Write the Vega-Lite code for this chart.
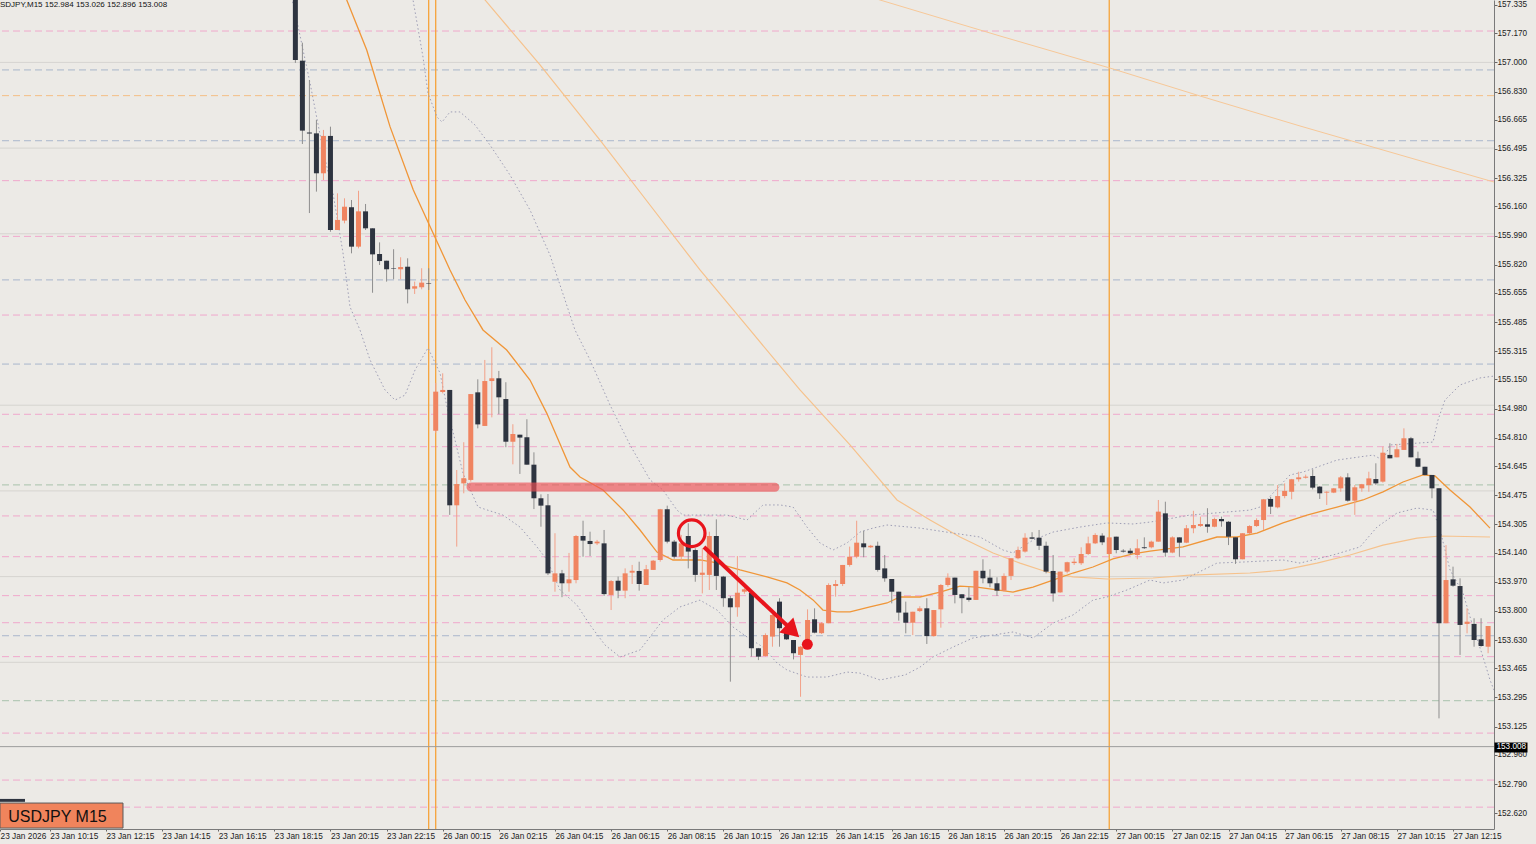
{
  "$schema": "https://vega.github.io/schema/vega-lite/v6.json",
  "width": 1494,
  "height": 829,
  "autosize": {"type": "none"},
  "padding": {"left": 0, "top": 0, "right": 42, "bottom": 15},
  "background": "#ECEAE6",
  "config": {"view": {"stroke": null}, "scale": {"continuousPadding": 0}},
  "datasets": {
    "candles": [
      {"n":42,"o":157.45,"h":157.5,"l":156.997,"c":157.014},
      {"n":43,"o":157.010,"h":157.115,"l":156.524,"c":156.602},
      {"n":44,"o":156.591,"h":156.897,"l":156.121,"c":156.585},
      {"n":45,"o":156.586,"h":156.664,"l":156.246,"c":156.353},
      {"n":46,"o":156.353,"h":156.606,"l":156.314,"c":156.571},
      {"n":47,"o":156.571,"h":156.625,"l":156.012,"c":156.022},
      {"n":48,"o":156.022,"h":156.236,"l":156.022,"c":156.081},
      {"n":49,"o":156.077,"h":156.207,"l":156.061,"c":156.158},
      {"n":50,"o":156.155,"h":156.197,"l":155.886,"c":155.925},
      {"n":51,"o":155.925,"h":156.251,"l":155.915,"c":156.131},
      {"n":52,"o":156.131,"h":156.174,"l":156.022,"c":156.032},
      {"n":53,"o":156.032,"h":156.032,"l":155.656,"c":155.880},
      {"n":54,"o":155.882,"h":155.950,"l":155.818,"c":155.841},
      {"n":55,"o":155.843,"h":155.843,"l":155.721,"c":155.793},
      {"n":56,"o":155.799,"h":155.910,"l":155.735,"c":155.796},
      {"n":57,"o":155.793,"h":155.863,"l":155.735,"c":155.806},
      {"n":58,"o":155.808,"h":155.857,"l":155.594,"c":155.676},
      {"n":59,"o":155.680,"h":155.721,"l":155.649,"c":155.694},
      {"n":60,"o":155.688,"h":155.799,"l":155.676,"c":155.715},
      {"n":61,"o":155.711,"h":155.799,"l":155.672,"c":155.708},
      {"n":62,"o":154.851,"h":155.130,"l":154.838,"c":155.079},
      {"n":63,"o":155.077,"h":155.186,"l":155.069,"c":155.089},
      {"n":64,"o":155.089,"h":155.089,"l":154.360,"c":154.416},
      {"n":65,"o":154.416,"h":154.622,"l":154.175,"c":154.540},
      {"n":66,"o":154.544,"h":154.784,"l":154.486,"c":154.574},
      {"n":67,"o":154.564,"h":155.065,"l":154.554,"c":155.065},
      {"n":68,"o":155.075,"h":155.151,"l":154.865,"c":154.888},
      {"n":69,"o":154.879,"h":155.264,"l":154.879,"c":155.141},
      {"n":70,"o":155.141,"h":155.338,"l":154.929,"c":155.157},
      {"n":71,"o":155.157,"h":155.200,"l":154.947,"c":155.046},
      {"n":72,"o":155.036,"h":155.134,"l":154.755,"c":154.787},
      {"n":73,"o":154.787,"h":154.889,"l":154.655,"c":154.832},
      {"n":74,"o":154.828,"h":154.828,"l":154.599,"c":154.811},
      {"n":75,"o":154.813,"h":154.918,"l":154.653,"c":154.653},
      {"n":76,"o":154.653,"h":154.725,"l":154.394,"c":154.457},
      {"n":77,"o":154.457,"h":154.480,"l":154.291,"c":154.414},
      {"n":78,"o":154.416,"h":154.482,"l":154.009,"c":154.019},
      {"n":79,"o":153.970,"h":154.253,"l":153.912,"c":154.019},
      {"n":80,"o":154.019,"h":154.039,"l":153.880,"c":153.961},
      {"n":81,"o":153.961,"h":154.138,"l":153.912,"c":153.984},
      {"n":82,"o":153.980,"h":154.243,"l":153.961,"c":154.237},
      {"n":83,"o":154.237,"h":154.326,"l":154.116,"c":154.210},
      {"n":84,"o":154.208,"h":154.262,"l":154.120,"c":154.190},
      {"n":85,"o":154.194,"h":154.214,"l":154.184,"c":154.204},
      {"n":86,"o":154.194,"h":154.272,"l":153.887,"c":153.898},
      {"n":87,"o":153.893,"h":153.980,"l":153.805,"c":153.974},
      {"n":88,"o":153.976,"h":154.000,"l":153.874,"c":153.918},
      {"n":89,"o":153.918,"h":154.048,"l":153.874,"c":154.019},
      {"n":90,"o":154.023,"h":154.068,"l":153.957,"c":154.034},
      {"n":91,"o":154.033,"h":154.087,"l":153.918,"c":153.957},
      {"n":92,"o":153.951,"h":154.068,"l":153.951,"c":154.043},
      {"n":93,"o":154.039,"h":154.097,"l":154.039,"c":154.093},
      {"n":94,"o":154.097,"h":154.395,"l":154.087,"c":154.393},
      {"n":95,"o":154.393,"h":154.414,"l":154.194,"c":154.204},
      {"n":96,"o":154.204,"h":154.214,"l":154.105,"c":154.116},
      {"n":97,"o":154.116,"h":154.243,"l":154.097,"c":154.194},
      {"n":98,"o":154.237,"h":154.311,"l":154.048,"c":154.146},
      {"n":99,"o":154.155,"h":154.165,"l":153.970,"c":154.010},
      {"n":100,"o":154.010,"h":154.165,"l":153.902,"c":154.023},
      {"n":101,"o":154.010,"h":154.262,"l":153.922,"c":154.237},
      {"n":102,"o":154.237,"h":154.334,"l":153.922,"c":154.004},
      {"n":103,"o":154.000,"h":154.004,"l":153.824,"c":153.874},
      {"n":104,"o":153.874,"h":153.887,"l":153.387,"c":153.821},
      {"n":105,"o":153.821,"h":154.120,"l":153.766,"c":153.906},
      {"n":106,"o":153.912,"h":153.935,"l":153.900,"c":153.926},
      {"n":107,"o":153.906,"h":153.922,"l":153.533,"c":153.582},
      {"n":108,"o":153.582,"h":153.584,"l":153.513,"c":153.533},
      {"n":109,"o":153.537,"h":153.669,"l":153.533,"c":153.659},
      {"n":110,"o":153.650,"h":153.788,"l":153.591,"c":153.776},
      {"n":111,"o":153.854,"h":153.874,"l":153.591,"c":153.699},
      {"n":112,"o":153.673,"h":153.718,"l":153.631,"c":153.634},
      {"n":113,"o":153.630,"h":153.630,"l":153.517,"c":153.553},
      {"n":114,"o":153.543,"h":153.595,"l":153.299,"c":153.591},
      {"n":115,"o":153.611,"h":153.809,"l":153.591,"c":153.747},
      {"n":116,"o":153.751,"h":153.815,"l":153.669,"c":153.673},
      {"n":117,"o":153.670,"h":153.735,"l":153.665,"c":153.728},
      {"n":118,"o":153.728,"h":153.961,"l":153.728,"c":153.951},
      {"n":119,"o":153.945,"h":153.980,"l":153.883,"c":153.957},
      {"n":120,"o":153.957,"h":154.068,"l":153.945,"c":154.068},
      {"n":121,"o":154.068,"h":154.175,"l":154.058,"c":154.116},
      {"n":122,"o":154.116,"h":154.326,"l":154.107,"c":154.198},
      {"n":123,"o":154.194,"h":154.268,"l":154.113,"c":154.171},
      {"n":124,"o":154.171,"h":154.185,"l":154.167,"c":154.180},
      {"n":125,"o":154.180,"h":154.204,"l":154.029,"c":154.039},
      {"n":126,"o":154.048,"h":154.126,"l":153.970,"c":153.990},
      {"n":127,"o":153.986,"h":153.986,"l":153.844,"c":153.912},
      {"n":128,"o":153.912,"h":153.912,"l":153.743,"c":153.790},
      {"n":129,"o":153.790,"h":153.854,"l":153.669,"c":153.731},
      {"n":130,"o":153.731,"h":153.795,"l":153.659,"c":153.795},
      {"n":131,"o":153.799,"h":153.827,"l":153.793,"c":153.815},
      {"n":132,"o":153.815,"h":153.874,"l":153.607,"c":153.653},
      {"n":133,"o":153.653,"h":153.805,"l":153.649,"c":153.805},
      {"n":134,"o":153.809,"h":153.957,"l":153.702,"c":153.951},
      {"n":135,"o":153.951,"h":154.019,"l":153.941,"c":153.994},
      {"n":136,"o":153.994,"h":153.994,"l":153.844,"c":153.893},
      {"n":137,"o":153.897,"h":153.897,"l":153.786,"c":153.874},
      {"n":138,"o":153.877,"h":153.938,"l":153.854,"c":153.864},
      {"n":139,"o":153.864,"h":154.034,"l":153.864,"c":154.034},
      {"n":140,"o":154.034,"h":154.101,"l":153.961,"c":153.990},
      {"n":141,"o":153.994,"h":154.043,"l":153.938,"c":153.961},
      {"n":142,"o":153.961,"h":153.996,"l":153.887,"c":153.918},
      {"n":143,"o":153.918,"h":154.019,"l":153.912,"c":154.004},
      {"n":144,"o":154.004,"h":154.107,"l":153.980,"c":154.107},
      {"n":145,"o":154.107,"h":154.175,"l":154.101,"c":154.155},
      {"n":146,"o":154.146,"h":154.253,"l":154.140,"c":154.227},
      {"n":147,"o":154.229,"h":154.259,"l":154.218,"c":154.221},
      {"n":148,"o":154.227,"h":154.272,"l":154.155,"c":154.180},
      {"n":149,"o":154.180,"h":154.204,"l":154.019,"c":154.029},
      {"n":150,"o":154.033,"h":154.126,"l":153.854,"c":153.902},
      {"n":151,"o":153.908,"h":154.029,"l":153.905,"c":154.029},
      {"n":152,"o":154.029,"h":154.087,"l":154.019,"c":154.084},
      {"n":153,"o":154.079,"h":154.107,"l":154.068,"c":154.087},
      {"n":154,"o":154.078,"h":154.171,"l":154.068,"c":154.132},
      {"n":155,"o":154.132,"h":154.233,"l":154.126,"c":154.194},
      {"n":156,"o":154.194,"h":154.253,"l":154.190,"c":154.243},
      {"n":157,"o":154.239,"h":154.253,"l":154.184,"c":154.200},
      {"n":158,"o":154.132,"h":154.233,"l":154.126,"c":154.229},
      {"n":159,"o":154.233,"h":154.233,"l":154.136,"c":154.155},
      {"n":160,"o":154.151,"h":154.160,"l":154.140,"c":154.146},
      {"n":161,"o":154.151,"h":154.165,"l":154.130,"c":154.136},
      {"n":162,"o":154.126,"h":154.218,"l":154.101,"c":154.165},
      {"n":163,"o":154.171,"h":154.229,"l":154.161,"c":154.166},
      {"n":164,"o":154.171,"h":154.210,"l":154.165,"c":154.204},
      {"n":165,"o":154.204,"h":154.447,"l":154.204,"c":154.379},
      {"n":166,"o":154.369,"h":154.437,"l":154.116,"c":154.140},
      {"n":167,"o":154.140,"h":154.235,"l":154.136,"c":154.229},
      {"n":168,"o":154.229,"h":154.229,"l":154.116,"c":154.198},
      {"n":169,"o":154.198,"h":154.301,"l":154.195,"c":154.282},
      {"n":170,"o":154.282,"h":154.384,"l":154.253,"c":154.301},
      {"n":171,"o":154.295,"h":154.350,"l":154.290,"c":154.307},
      {"n":172,"o":154.305,"h":154.399,"l":154.256,"c":154.291},
      {"n":173,"o":154.291,"h":154.344,"l":154.288,"c":154.336},
      {"n":174,"o":154.336,"h":154.350,"l":154.291,"c":154.323},
      {"n":175,"o":154.320,"h":154.324,"l":154.184,"c":154.233},
      {"n":176,"o":154.229,"h":154.229,"l":154.074,"c":154.101},
      {"n":177,"o":154.101,"h":154.253,"l":154.101,"c":154.253},
      {"n":178,"o":154.253,"h":154.300,"l":154.248,"c":154.295},
      {"n":179,"o":154.295,"h":154.340,"l":154.290,"c":154.330},
      {"n":180,"o":154.330,"h":154.453,"l":154.272,"c":154.451},
      {"n":181,"o":154.453,"h":154.465,"l":154.365,"c":154.408},
      {"n":182,"o":154.404,"h":154.534,"l":154.398,"c":154.470},
      {"n":183,"o":154.470,"h":154.544,"l":154.457,"c":154.500},
      {"n":184,"o":154.495,"h":154.570,"l":154.451,"c":154.568},
      {"n":185,"o":154.568,"h":154.612,"l":154.554,"c":154.579},
      {"n":186,"o":154.577,"h":154.595,"l":154.572,"c":154.583},
      {"n":187,"o":154.587,"h":154.626,"l":154.509,"c":154.519},
      {"n":188,"o":154.525,"h":154.528,"l":154.453,"c":154.486},
      {"n":189,"o":154.490,"h":154.498,"l":154.418,"c":154.495},
      {"n":190,"o":154.490,"h":154.517,"l":154.487,"c":154.515},
      {"n":191,"o":154.515,"h":154.587,"l":154.495,"c":154.579},
      {"n":192,"o":154.579,"h":154.603,"l":154.437,"c":154.443},
      {"n":193,"o":154.443,"h":154.534,"l":154.360,"c":154.521},
      {"n":194,"o":154.515,"h":154.541,"l":154.495,"c":154.539},
      {"n":195,"o":154.534,"h":154.612,"l":154.495,"c":154.573},
      {"n":196,"o":154.569,"h":154.661,"l":154.534,"c":154.544},
      {"n":197,"o":154.554,"h":154.758,"l":154.548,"c":154.723},
      {"n":198,"o":154.710,"h":154.778,"l":154.690,"c":154.690},
      {"n":199,"o":154.696,"h":154.774,"l":154.696,"c":154.743},
      {"n":200,"o":154.739,"h":154.865,"l":154.739,"c":154.807},
      {"n":201,"o":154.807,"h":154.815,"l":154.696,"c":154.696},
      {"n":202,"o":154.690,"h":154.729,"l":154.638,"c":154.641},
      {"n":203,"o":154.641,"h":154.641,"l":154.590,"c":154.593},
      {"n":204,"o":154.593,"h":154.593,"l":154.457,"c":154.515},
      {"n":205,"o":154.515,"h":154.515,"l":153.173,"c":153.728},
      {"n":206,"o":153.728,"h":154.184,"l":153.728,"c":153.980},
      {"n":207,"o":153.984,"h":154.058,"l":153.941,"c":153.947},
      {"n":208,"o":153.945,"h":153.990,"l":153.543,"c":153.718},
      {"n":209,"o":153.724,"h":153.815,"l":153.669,"c":153.737},
      {"n":210,"o":153.724,"h":153.757,"l":153.591,"c":153.630},
      {"n":211,"o":153.634,"h":153.757,"l":153.591,"c":153.595},
      {"n":212,"o":153.591,"h":153.712,"l":153.553,"c":153.712}
    ],
    "ma1": [
      {"n":46.94,"p":157.627},{"n":49.32,"p":157.364},{"n":52.17,"p":157.072},{"n":55.49,"p":156.625},
      {"n":58.81,"p":156.255},{"n":61.62,"p":156.005},{"n":64.04,"p":155.789},{"n":66.18,"p":155.614},
      {"n":68.74,"p":155.439},{"n":72.12,"p":155.322},{"n":75.44,"p":155.147},{"n":77.82,"p":154.954},
      {"n":81.14,"p":154.639},{"n":82.57,"p":154.581},{"n":85.85,"p":154.505},{"n":88.70,"p":154.389},
      {"n":91.12,"p":154.272},{"n":93.54,"p":154.143},{"n":95.82,"p":154.097},{"n":99.67,"p":154.097},
      {"n":101.52,"p":154.085},{"n":105.37,"p":154.039},{"n":109.22,"p":153.998},{"n":112.07,"p":153.963},
      {"n":113.92,"p":153.922},{"n":115.78,"p":153.864},{"n":117.20,"p":153.805},{"n":119.20,"p":153.794},
      {"n":121.05,"p":153.794},{"n":123.90,"p":153.823},{"n":126.33,"p":153.846},{"n":128.18,"p":153.881},
      {"n":131.03,"p":153.881},{"n":133.88,"p":153.910},{"n":136.73,"p":153.945},{"n":139.15,"p":153.939},
      {"n":142.00,"p":153.922},{"n":144.28,"p":153.910},{"n":147.13,"p":153.939},{"n":149.98,"p":153.980},
      {"n":152.83,"p":154.021},{"n":155.68,"p":154.056},{"n":158.53,"p":154.103},{"n":161.38,"p":154.132},
      {"n":163.81,"p":154.149},{"n":168.51,"p":154.173},{"n":173.36,"p":154.231},{"n":176.21,"p":154.231},
      {"n":179.06,"p":154.254},{"n":182.77,"p":154.313},{"n":186.19,"p":154.359},{"n":190.46,"p":154.406},
      {"n":194.17,"p":154.447},{"n":197.02,"p":154.494},{"n":199.87,"p":154.552},{"n":202.72,"p":154.593},
      {"n":204.43,"p":154.587},{"n":206.57,"p":154.505},{"n":209.42,"p":154.406},{"n":212.27,"p":154.283}
    ],
    "ma2": [
      {"n":68.32,"p":157.411},{"n":69.03,"p":157.364},{"n":76.87,"p":156.985},{"n":85.42,"p":156.547},
      {"n":92.54,"p":156.168},{"n":99.67,"p":155.789},{"n":106.80,"p":155.439},{"n":113.92,"p":155.089},
      {"n":121.05,"p":154.768},{"n":127.75,"p":154.447},{"n":132.46,"p":154.330},{"n":136.73,"p":154.231},
      {"n":141.44,"p":154.138},{"n":145.28,"p":154.079},{"n":149.13,"p":154.027},{"n":152.83,"p":153.998},
      {"n":157.68,"p":153.986},{"n":164.24,"p":153.992},{"n":169.51,"p":154.009},{"n":178.06,"p":154.021},
      {"n":182.77,"p":154.038},{"n":187.61,"p":154.079},{"n":192.32,"p":154.126},{"n":197.02,"p":154.184},
      {"n":201.87,"p":154.225},{"n":205.15,"p":154.237},{"n":212.27,"p":154.231}
    ],
    "ma3": [
      {"n":123.9,"p":157.382},{"n":125.33,"p":157.364},{"n":142.43,"p":157.154},{"n":158.11,"p":156.967},
      {"n":170.94,"p":156.804},{"n":185.19,"p":156.629},{"n":199.45,"p":156.460},{"n":212.84,"p":156.302}
    ],
    "bb": [
      {"b":"u","n":58.34,"p":157.452},{"b":"u","n":58.77,"p":157.364},{"b":"u","n":60.19,"p":157.031},{"b":"u","n":60.90,"p":156.821},
      {"b":"u","n":62.19,"p":156.681},{"b":"u","n":62.90,"p":156.652},{"b":"u","n":64.04,"p":156.711},{"b":"u","n":65.46,"p":156.711},
      {"b":"u","n":67.60,"p":156.635},{"b":"u","n":69.74,"p":156.518},{"b":"u","n":72.59,"p":156.343},{"b":"u","n":75.44,"p":156.139},
      {"b":"u","n":78.29,"p":155.876},{"b":"u","n":80.43,"p":155.614},{"b":"u","n":81.85,"p":155.439},{"b":"u","n":84.00,"p":155.264},
      {"b":"u","n":86.85,"p":155.001},{"b":"u","n":89.70,"p":154.768},{"b":"u","n":92.55,"p":154.564},{"b":"u","n":94.40,"p":154.505},
      {"b":"u","n":96.39,"p":154.388},{"b":"u","n":97.25,"p":154.359},{"b":"u","n":101.52,"p":154.359},{"b":"u","n":103.52,"p":154.359},
      {"b":"u","n":106.37,"p":154.330},{"b":"u","n":108.65,"p":154.418},{"b":"u","n":111.08,"p":154.418},{"b":"u","n":112.93,"p":154.406},
      {"b":"u","n":114.92,"p":154.289},{"b":"u","n":116.78,"p":154.196},{"b":"u","n":118.63,"p":154.155},{"b":"u","n":120.62,"p":154.196},
      {"b":"u","n":122.48,"p":154.260},{"b":"u","n":124.33,"p":154.283},{"b":"u","n":126.32,"p":154.301},{"b":"u","n":131.03,"p":154.283},
      {"b":"u","n":135.73,"p":154.254},{"b":"u","n":139.58,"p":154.231},{"b":"u","n":142.86,"p":154.155},{"b":"u","n":144.29,"p":154.138},
      {"b":"u","n":147.14,"p":154.213},{"b":"u","n":149.99,"p":154.260},{"b":"u","n":153.83,"p":154.289},{"b":"u","n":157.68,"p":154.313},
      {"b":"u","n":161.39,"p":154.307},{"b":"u","n":163.81,"p":154.318},{"b":"u","n":169.51,"p":154.359},{"b":"u","n":178.06,"p":154.388},
      {"b":"u","n":179.49,"p":154.406},{"b":"u","n":183.76,"p":154.593},{"b":"u","n":185.62,"p":154.610},{"b":"u","n":190.46,"p":154.680},
      {"b":"u","n":195.60,"p":154.709},{"b":"u","n":197.02,"p":154.680},{"b":"u","n":198.02,"p":154.768},{"b":"u","n":204.15,"p":154.785},
      {"b":"u","n":204.86,"p":154.914},{"b":"u","n":205.85,"p":155.030},{"b":"u","n":207.99,"p":155.118},{"b":"u","n":210.84,"p":155.159},
      {"b":"u","n":212.84,"p":155.170},
      {"b":"l","n":41.23,"p":157.422},{"b":"l","n":42.19,"p":157.247},{"b":"l","n":44.09,"p":156.880},{"b":"l","n":45.94,"p":156.489},
      {"b":"l","n":47.36,"p":156.238},{"b":"l","n":48.79,"p":155.888},{"b":"l","n":49.79,"p":155.573},{"b":"l","n":51.21,"p":155.439},
      {"b":"l","n":52.64,"p":155.264},{"b":"l","n":54.77,"p":155.089},{"b":"l","n":56.20,"p":155.030},{"b":"l","n":57.63,"p":155.059},
      {"b":"l","n":59.05,"p":155.205},{"b":"l","n":60.90,"p":155.334},{"b":"l","n":62.61,"p":155.188},{"b":"l","n":63.61,"p":154.989},
      {"b":"l","n":65.89,"p":154.604},{"b":"l","n":68.03,"p":154.406},{"b":"l","n":71.59,"p":154.359},{"b":"l","n":74.02,"p":154.289},
      {"b":"l","n":76.44,"p":154.173},{"b":"l","n":77.87,"p":154.097},{"b":"l","n":79.72,"p":153.922},{"b":"l","n":82.14,"p":153.834},
      {"b":"l","n":83.99,"p":153.718},{"b":"l","n":86.13,"p":153.601},{"b":"l","n":88.27,"p":153.531},{"b":"l","n":91.12,"p":153.572},
      {"b":"l","n":94.40,"p":153.747},{"b":"l","n":96.82,"p":153.823},{"b":"l","n":99.67,"p":153.863},{"b":"l","n":102.10,"p":153.805},
      {"b":"l","n":104.38,"p":153.706},{"b":"l","n":106.37,"p":153.648},{"b":"l","n":108.65,"p":153.589},{"b":"l","n":110.65,"p":153.496},
      {"b":"l","n":112.07,"p":153.455},{"b":"l","n":114.92,"p":153.414},{"b":"l","n":117.77,"p":153.414},{"b":"l","n":120.62,"p":153.443},
      {"b":"l","n":122.48,"p":153.437},{"b":"l","n":125.33,"p":153.397},{"b":"l","n":128.89,"p":153.426},{"b":"l","n":131.03,"p":153.472},
      {"b":"l","n":132.88,"p":153.531},{"b":"l","n":135.73,"p":153.589},{"b":"l","n":138.58,"p":153.642},{"b":"l","n":141.44,"p":153.659},
      {"b":"l","n":144.29,"p":153.677},{"b":"l","n":147.14,"p":153.642},{"b":"l","n":149.99,"p":153.729},{"b":"l","n":152.83,"p":153.776},
      {"b":"l","n":155.68,"p":153.863},{"b":"l","n":157.68,"p":153.881},{"b":"l","n":160.53,"p":153.922},{"b":"l","n":163.81,"p":153.980},
      {"b":"l","n":165.66,"p":153.963},{"b":"l","n":168.51,"p":153.980},{"b":"l","n":170.51,"p":154.021},{"b":"l","n":173.36,"p":154.079},
      {"b":"l","n":177.06,"p":154.085},{"b":"l","n":182.77,"p":154.097},{"b":"l","n":185.19,"p":154.079},{"b":"l","n":189.89,"p":154.126},
      {"b":"l","n":193.74,"p":154.173},{"b":"l","n":196.16,"p":154.289},{"b":"l","n":199.01,"p":154.371},{"b":"l","n":201.87,"p":154.400},
      {"b":"l","n":204.15,"p":154.388},{"b":"l","n":205.15,"p":154.272},{"b":"l","n":206.57,"p":154.039},{"b":"l","n":208.43,"p":153.904},
      {"b":"l","n":209.85,"p":153.706},{"b":"l","n":211.28,"p":153.531},{"b":"l","n":212.27,"p":153.397},{"b":"l","n":212.84,"p":153.338}
    ],
    "dlevels": [
      {"p":157.183,"k":"pink"},{"p":156.956,"k":"blue"},{"p":156.806,"k":"orange"},{"p":156.543,"k":"blue"},
      {"p":156.310,"k":"pink"},{"p":155.985,"k":"pink"},{"p":155.731,"k":"blue"},{"p":155.526,"k":"pink"},
      {"p":155.240,"k":"blue"},{"p":154.947,"k":"pink"},{"p":154.758,"k":"pink"},{"p":154.535,"k":"green"},
      {"p":154.354,"k":"pink"},{"p":154.116,"k":"pink"},{"p":153.889,"k":"pink"},{"p":153.731,"k":"pink"},
      {"p":153.655,"k":"blue"},{"p":153.533,"k":"pink"},{"p":153.276,"k":"green"},{"p":153.087,"k":"pink"},
      {"p":152.813,"k":"pink"},{"p":152.655,"k":"pink"}
    ],
    "slevels": [{"p":157.0},{"p":156.5},{"p":156.0},{"p":155.0},{"p":154.5},{"p":154.0},{"p":153.5}],
    "vlines": [{"n":61},{"n":62},{"n":158}],
    "trend": [{"n":67.03,"p":154.523},{"n":110.36,"p":154.521}],
    "circle": [{"n":98.49,"p":154.253}],
    "arrow": [{"n":100.24,"p":154.173,"n2":112.78,"p2":153.688}],
    "head": [{"n":112.89,"p":153.682}],
    "dot": [{"n":114.97,"p":153.605}],
    "box": [{"n":-0.1,"n2":17.43,"p":152.679,"p2":152.533}],
    "bar": [{"n":-0.1,"n2":3.46,"p":152.703,"p2":152.686}],
    "boxtext": [{"n":1.08,"p":152.570,"t":"USDJPY M15"}],
    "header": [{"n":-0.1,"p":157.323,"t":"SDJPY,M15  152.984 153.026 152.896 153.008"}],
    "bid": [{"p":153.008}]
  },
  "resolve": {"axis": {"y": "independent"}},
  "layer": [
    {
      "data": {"name": "slevels"},
      "mark": {"type": "rule", "color": "#D6D4D0", "strokeWidth": 1},
      "encoding": {
        "y": {"field": "p", "type": "quantitative", "scale": {"domain": [152.5275, 157.364], "nice": false, "zero": false}, "axis": null}
      }
    },
    {
      "data": {"name": "dlevels"},
      "mark": {"type": "rule", "strokeWidth": 1, "strokeDash": [7, 4]},
      "encoding": {
        "y": {"field": "p", "type": "quantitative", "axis": null},
        "color": {"condition": [
          {"test": "datum.k === 'pink'", "value": "#F0A8CC"},
          {"test": "datum.k === 'blue'", "value": "#A9B6CC"},
          {"test": "datum.k === 'green'", "value": "#A9C2AC"}
        ], "value": "#F4BE84"}
      }
    },
    {
      "data": {"name": "vlines"},
      "mark": {"type": "rule", "color": "#F6A33A", "strokeWidth": 1.3},
      "encoding": {
        "x": {"field": "n", "type": "quantitative", "scale": {"domain": [-0.1, 212.84], "nice": false, "zero": false, "padding": 0},
          "axis": {
            "orient": "bottom", "title": null, "grid": false,
            "values": [-0.09, 7, 15, 23, 31, 39, 47, 55, 63, 71, 79, 87, 95, 103, 111, 119, 127, 135, 143, 151, 159, 167, 175, 183, 191, 199, 207],
            "labelExpr": "datum.value < 0 ? '23 Jan 2026' : ['23 Jan 10:15','23 Jan 12:15','23 Jan 14:15','23 Jan 16:15','23 Jan 18:15','23 Jan 20:15','23 Jan 22:15','26 Jan 00:15','26 Jan 02:15','26 Jan 04:15','26 Jan 06:15','26 Jan 08:15','26 Jan 10:15','26 Jan 12:15','26 Jan 14:15','26 Jan 16:15','26 Jan 18:15','26 Jan 20:15','26 Jan 22:15','27 Jan 00:15','27 Jan 02:15','27 Jan 04:15','27 Jan 06:15','27 Jan 08:15','27 Jan 10:15','27 Jan 12:15'][round((datum.value - 7) / 8)]",
            "domainColor": "#7A7A7A", "tickColor": "#666666", "tickSize": 2,
            "labelPadding": 0, "labelAlign": "left", "labelBaseline": "top",
            "labelFont": "Liberation Sans", "labelFontSize": 8.3, "labelColor": "#222222",
            "labelFlush": false, "labelOverlap": false
          }
        }
      }
    },
    {
      "data": {"name": "ma3"},
      "mark": {"type": "line", "color": "#F7C898", "strokeWidth": 1, "clip": true},
      "encoding": {
        "x": {"field": "n", "type": "quantitative"},
        "y": {"field": "p", "type": "quantitative", "axis": null}
      }
    },
    {
      "data": {"name": "ma2"},
      "mark": {"type": "line", "color": "#F6C28C", "strokeWidth": 1.2, "clip": true},
      "encoding": {
        "x": {"field": "n", "type": "quantitative"},
        "y": {"field": "p", "type": "quantitative", "axis": null}
      }
    },
    {
      "data": {"name": "bb"},
      "mark": {"type": "line", "color": "#9D9DB5", "strokeWidth": 1, "strokeDash": [1.5, 2.5], "clip": true},
      "encoding": {
        "x": {"field": "n", "type": "quantitative"},
        "y": {"field": "p", "type": "quantitative", "axis": null},
        "detail": {"field": "b", "type": "nominal"}
      }
    },
    {
      "data": {"name": "ma1"},
      "mark": {"type": "line", "color": "#F09638", "strokeWidth": 1.3, "clip": true},
      "encoding": {
        "x": {"field": "n", "type": "quantitative"},
        "y": {"field": "p", "type": "quantitative", "axis": null}
      }
    },
    {
      "data": {"name": "candles"},
      "mark": {"type": "rule", "strokeWidth": 1, "clip": true},
      "encoding": {
        "x": {"field": "n", "type": "quantitative"},
        "y": {"field": "l", "type": "quantitative", "axis": null},
        "y2": {"field": "h"},
        "color": {"condition": {"test": "datum.c >= datum.o", "value": "#F2A088"}, "value": "#8E8E8E"}
      }
    },
    {
      "data": {"name": "candles"},
      "mark": {"type": "bar", "size": 5, "clip": true},
      "encoding": {
        "x": {"field": "n", "type": "quantitative"},
        "y": {"field": "o", "type": "quantitative",
          "axis": {
            "orient": "right", "title": null, "grid": false,
            "values": [157.335, 157.17, 157.0, 156.83, 156.665, 156.495, 156.325, 156.16, 155.99, 155.82, 155.655, 155.485, 155.315, 155.15, 154.98, 154.81, 154.645, 154.475, 154.305, 154.14, 153.97, 153.8, 153.63, 153.465, 153.295, 153.125, 152.96, 152.79, 152.62],
            "format": ".3f",
            "domainColor": "#7A7A7A", "tickColor": "#666666", "tickSize": 3, "labelPadding": 0,
            "labelFont": "Liberation Sans", "labelFontSize": 8.2, "labelColor": "#222222",
            "labelFlush": false, "labelOverlap": false
          }
        },
        "y2": {"field": "c"},
        "color": {"condition": {"test": "datum.c >= datum.o", "value": "#F08460"}, "value": "#2E3440"}
      }
    },
    {
      "data": {"name": "trend"},
      "mark": {"type": "line", "color": "#EE4F55", "opacity": 0.65, "strokeWidth": 9, "strokeCap": "round"},
      "encoding": {
        "x": {"field": "n", "type": "quantitative"},
        "y": {"field": "p", "type": "quantitative", "axis": null}
      }
    },
    {
      "data": {"name": "circle"},
      "mark": {"type": "point", "shape": "circle", "size": 707, "filled": false, "stroke": "#E8141C", "strokeWidth": 3.2, "opacity": 1},
      "encoding": {
        "x": {"field": "n", "type": "quantitative"},
        "y": {"field": "p", "type": "quantitative", "axis": null}
      }
    },
    {
      "data": {"name": "arrow"},
      "mark": {"type": "rule", "color": "#E8141C", "strokeWidth": 4},
      "encoding": {
        "x": {"field": "n", "type": "quantitative"},
        "y": {"field": "p", "type": "quantitative", "axis": null},
        "x2": {"field": "n2"},
        "y2": {"field": "p2"}
      }
    },
    {
      "data": {"name": "head"},
      "mark": {"type": "point", "shape": "triangle-right", "angle": 43.5, "size": 420, "filled": true, "color": "#E8141C", "opacity": 1},
      "encoding": {
        "x": {"field": "n", "type": "quantitative"},
        "y": {"field": "p", "type": "quantitative", "axis": null}
      }
    },
    {
      "data": {"name": "dot"},
      "mark": {"type": "point", "shape": "circle", "size": 120, "filled": true, "color": "#E8141C", "opacity": 1},
      "encoding": {
        "x": {"field": "n", "type": "quantitative"},
        "y": {"field": "p", "type": "quantitative", "axis": null}
      }
    },
    {
      "data": {"name": "bar"},
      "mark": {"type": "rect", "color": "#2E3440"},
      "encoding": {
        "x": {"field": "n", "type": "quantitative"},
        "x2": {"field": "n2"},
        "y": {"field": "p", "type": "quantitative", "axis": null},
        "y2": {"field": "p2"}
      }
    },
    {
      "data": {"name": "box"},
      "mark": {"type": "rect", "fill": "#F0845C", "stroke": "#5A5A5A", "strokeWidth": 1},
      "encoding": {
        "x": {"field": "n", "type": "quantitative"},
        "x2": {"field": "n2"},
        "y": {"field": "p", "type": "quantitative", "axis": null},
        "y2": {"field": "p2"}
      }
    },
    {
      "data": {"name": "boxtext"},
      "mark": {"type": "text", "align": "left", "baseline": "alphabetic", "font": "Liberation Sans", "fontSize": 16, "color": "#111111"},
      "encoding": {
        "x": {"field": "n", "type": "quantitative"},
        "y": {"field": "p", "type": "quantitative", "axis": null},
        "text": {"field": "t"}
      }
    },
    {
      "data": {"name": "header"},
      "mark": {"type": "text", "align": "left", "baseline": "alphabetic", "font": "Liberation Sans", "fontSize": 8, "color": "#111111"},
      "encoding": {
        "x": {"field": "n", "type": "quantitative"},
        "y": {"field": "p", "type": "quantitative", "axis": null},
        "text": {"field": "t"}
      }
    },
    {
      "data": {"name": "bid"},
      "mark": {"type": "rule", "color": "#9C9C9C", "strokeWidth": 1},
      "encoding": {
        "y": {"field": "p", "type": "quantitative",
          "axis": {
            "orient": "right", "title": null, "grid": false, "domain": false,
            "values": [153.008], "format": ".3f",
            "tickColor": "#000000", "tickSize": 33, "tickWidth": 10,
            "labelPadding": -31, "labelFont": "Liberation Sans", "labelFontSize": 8.2, "labelColor": "#FFFFFF",
            "labelFlush": false, "labelOverlap": false
          }
        }
      }
    }
  ]
}
